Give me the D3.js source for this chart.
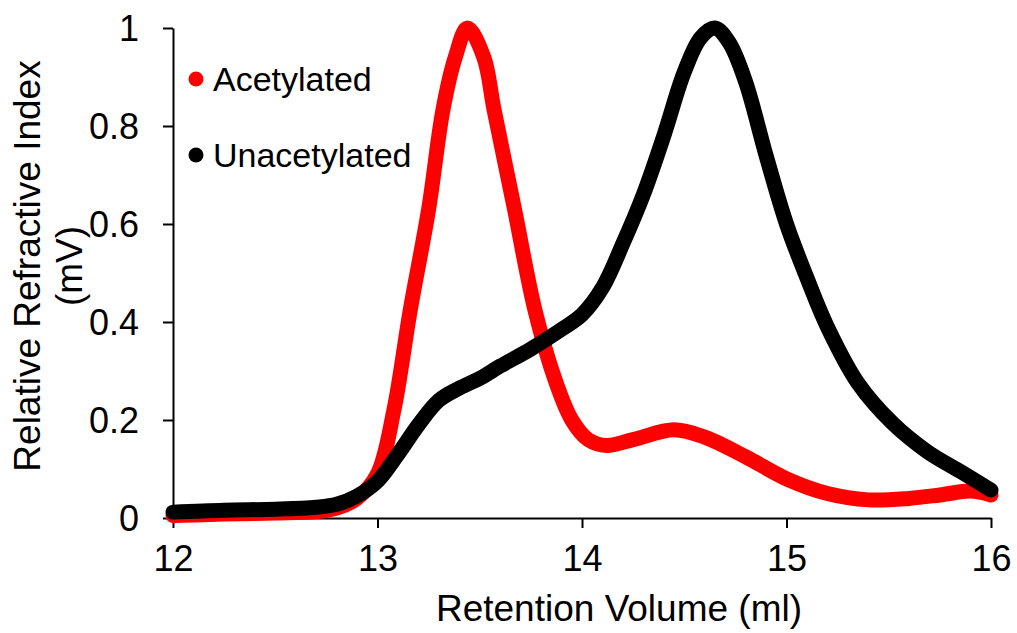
<!DOCTYPE html>
<html>
<head>
<meta charset="utf-8">
<script src="https://cdn.jsdelivr.net/npm/d3@7"></script>
<style>
  body { margin: 0; background: #fff; }
  text { font-family: Arial, "Liberation Sans", sans-serif; fill: #000; }
</style>
</head>
<body>
<div id="chart"></div>
<script>
// retention volume (ml) / relative refractive index (mV)
const acetylatedX = [12.0, 12.25, 12.5, 12.7, 12.8, 12.9, 13.0, 13.08, 13.16, 13.25, 13.32, 13.38, 13.44, 13.52, 13.57, 13.67, 13.77, 13.87, 13.95, 14.03, 14.12, 14.25, 14.45, 14.6, 14.8, 15.0, 15.2, 15.4, 15.6, 15.75, 15.9, 16.0];
const acetylatedY = [0.005, 0.008, 0.01, 0.013, 0.02, 0.04, 0.09, 0.22, 0.424, 0.63, 0.833, 0.94, 1.0, 0.94, 0.833, 0.63, 0.424, 0.28, 0.2, 0.16, 0.148, 0.16, 0.18, 0.165, 0.125, 0.08, 0.05, 0.037, 0.04, 0.047, 0.055, 0.047];

const unacetylatedX = [12.0, 12.25, 12.5, 12.7, 12.8, 12.9, 13.0, 13.1, 13.2, 13.3, 13.4, 13.5, 13.6, 13.75, 13.9, 14.0, 14.1, 14.2, 14.3, 14.4, 14.5, 14.58, 14.65, 14.72, 14.8, 14.9, 15.0, 15.1, 15.2, 15.35, 15.52, 15.69, 15.85, 16.0];
const unacetylatedY = [0.012, 0.016, 0.018, 0.022, 0.028, 0.045, 0.075, 0.13, 0.19, 0.24, 0.265, 0.285, 0.31, 0.345, 0.385, 0.415, 0.47, 0.56, 0.66, 0.78, 0.91, 0.98, 1.0, 0.97, 0.89, 0.74, 0.60, 0.49, 0.39, 0.275, 0.193, 0.135, 0.095, 0.057];

const xTicks = [12, 13, 14, 15, 16];
const yTicks = [0, 0.2, 0.4, 0.6, 0.8, 1];
const seriesNames = ["Acetylated", "Unacetylated"];
const seriesColors = ["#ff0000", "#000000"];

const width = 1017, height = 633;
const margin = { top: 28, right: 26, bottom: 115, left: 173 };

const svg = d3.select("#chart").append("svg")
  .attr("width", width)
  .attr("height", height);

const x = d3.scaleLinear().domain([12, 16]).range([margin.left, width - margin.right]);
const y = d3.scaleLinear().domain([0, 1]).range([height - margin.bottom, margin.top]);

// axes
const xAxis = svg.append("g")
  .attr("transform", `translate(0,${y(0)})`)
  .call(d3.axisBottom(x).tickValues(xTicks).tickFormat(d3.format("d")).tickSize(10).tickSizeOuter(0));

const yAxis = svg.append("g")
  .attr("transform", `translate(${x(12)},0)`)
  .call(d3.axisLeft(y).tickValues(yTicks).tickFormat(d => d === 0 || d === 1 ? d : d3.format(".1f")(d)).tickSize(10).tickSizeOuter(0));

[xAxis, yAxis].forEach(g => {
  g.select(".domain").attr("stroke", "#000").attr("stroke-width", 2);
  g.selectAll(".tick line").attr("stroke", "#000").attr("stroke-width", 2);
  g.selectAll(".tick text").attr("font-size", 36).attr("font-family", "Arial, 'Liberation Sans', sans-serif");
});
xAxis.selectAll(".tick text").attr("dy", "1.1em");
yAxis.selectAll(".tick text").attr("x", -34).attr("dy", "0.36em");

// series lines
const line = d3.line()
  .x(d => x(d[0]))
  .y(d => y(d[1]))
  .curve(d3.curveCatmullRom.alpha(0.5));

const series = [
  d3.zip(acetylatedX, acetylatedY),
  d3.zip(unacetylatedX, unacetylatedY)
];

svg.append("g").selectAll("path")
  .data(series)
  .enter()
  .append("path")
  .attr("d", line)
  .attr("fill", "none")
  .attr("stroke", (d, i) => seriesColors[i])
  .attr("stroke-width", 15)
  .attr("stroke-linecap", "round")
  .attr("stroke-linejoin", "round");

// axis titles
svg.append("text")
  .attr("x", 619)
  .attr("y", 621)
  .attr("text-anchor", "middle")
  .attr("font-size", 37)
  .text("Retention Volume (ml)");

const yTitle = svg.append("text")
  .attr("transform", "translate(0,266) rotate(-90)")
  .attr("text-anchor", "middle")
  .attr("font-size", 37);
yTitle.append("tspan").attr("x", 0).attr("y", 40).text("Relative Refractive Index");
yTitle.append("tspan").attr("x", 0).attr("y", 82).text("(mV)");

// legend
const legend = svg.append("g").selectAll("g")
  .data(seriesNames)
  .enter()
  .append("g")
  .attr("transform", (d, i) => `translate(196,${79 + i * 76})`);

legend.append("circle")
  .attr("r", 7.5)
  .attr("fill", (d, i) => seriesColors[i]);

legend.append("text")
  .attr("x", 17)
  .attr("y", 12)
  .attr("font-size", 34)
  .text(d => d);
</script>
</body>
</html>
